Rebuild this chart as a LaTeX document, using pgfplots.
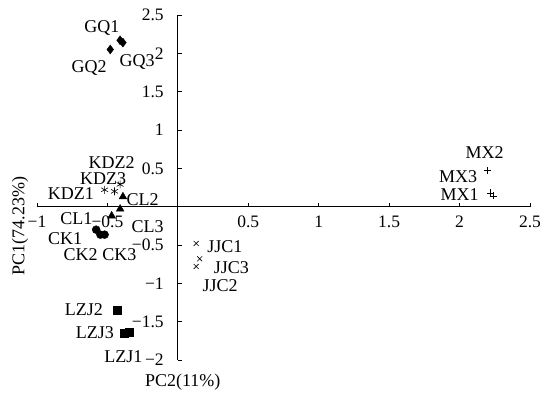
\documentclass[border=0pt]{standalone}
\usepackage{fontspec}
\setmainfont{Liberation Serif}
\usepackage{pgfplots}
\pgfplotsset{compat=1.18}

\begin{document}
\fontsize{18bp}{20bp}\selectfont
\begin{tikzpicture}[font=\fontsize{18bp}{20bp}\selectfont]
\begin{axis}[
    scale only axis,
    width=493bp, height=345bp,
    xmin=-1, xmax=2.5, ymin=-2, ymax=2.5,
    axis lines=middle,
    axis line style={-, black, line width=0.8pt},
    tick align=inside,
    major tick length=4bp,
    tick style={black, line width=0.8pt},
    xtick={-1,-0.5,0,0.5,1,1.5,2,2.5},
    xticklabels={−1,−0.5,0,0.5,1,1.5,2,2.5},
    ytick={-2,-1.5,-1,-0.5,0,0.5,1,1.5,2,2.5},
    yticklabels={−2,−1.5,−1,−0.5,0,0.5,1,1.5,2,2.5},
    tick label style={font=\fontsize{17.5bp}{19bp}\selectfont},
    x tick label style={anchor=north, yshift=-3bp},
    y tick label style={anchor=east, xshift=-8bp},
    clip=false,
]
% GQ
\addplot[only marks, mark=diamond*, mark size=4.5pt, black] coordinates {
    (-0.41,2.17) (-0.48,2.05) (-0.39,2.14)
};
% KDZ
\addplot[only marks, mark=asterisk, mark size=4pt, black, line width=0.6pt] coordinates {
    (-0.52,0.22) (-0.41,0.29) (-0.45,0.20)
};
% CL
\addplot[only marks, mark=triangle*, mark size=4.5pt, black] coordinates {
    (-0.47,-0.12) (-0.39,0.13) (-0.41,-0.03)
};
% CK
\addplot[only marks, mark=*, mark size=4pt, black] coordinates {
    (-0.58,-0.30) (-0.55,-0.365) (-0.52,-0.365)
};
% JJC
\addplot[only marks, mark=x, mark size=3.5pt, black, line width=0.6pt] coordinates {
    (0.13,-0.48) (0.13,-0.78) (0.155,-0.68)
};
% MX
\addplot[only marks, mark=+, mark size=3.5pt, black, line width=0.6pt] coordinates {
    (2.22,0.18) (2.20,0.47) (2.24,0.14)
};
% LZJ
\addplot[only marks, mark=square*, mark size=4pt, black] coordinates {
    (-0.38,-1.65) (-0.43,-1.35) (-0.345,-1.64)
};

\node at (axis cs:-0.54,2.33) {GQ1};
\node at (axis cs:-0.63,1.81) {GQ2};
\node at (axis cs:-0.29,1.89) {GQ3};
\node at (axis cs:-0.76,0.17) {KDZ1};
\node at (axis cs:-0.47,0.58) {KDZ2};
\node at (axis cs:-0.53,0.36) {KDZ3};
\node at (axis cs:-0.72,-0.15) {CL1};
\node at (axis cs:-0.25,0.09) {CL2};
\node at (axis cs:-0.215,-0.26) {CL3};
\node at (axis cs:-0.80,-0.42) {CK1};
\node at (axis cs:-0.69,-0.625) {CK2};
\node at (axis cs:-0.415,-0.625) {CK3};
\node at (axis cs:0.333,-0.525) {JJC1};
\node at (axis cs:0.30,-1.03) {JJC2};
\node at (axis cs:0.38,-0.80) {JJC3};
\node at (axis cs:2.0,0.156) {MX1};
\node at (axis cs:2.177,0.70) {MX2};
\node at (axis cs:1.99,0.395) {MX3};
\node at (axis cs:-0.387,-1.95) {LZJ1};
\node at (axis cs:-0.667,-1.34) {LZJ2};
\node at (axis cs:-0.59,-1.64) {LZJ3};

\node at (axis cs:0.035,-2.29) {PC2(11\%)};
\node[rotate=90] at (axis cs:-1.12,-0.25) {PC1(74.23\%)};
\end{axis}
\pgfresetboundingbox
\path[use as bounding box] (-37bp,-40bp) rectangle (507bp,360bp);
\end{tikzpicture}
\end{document}
